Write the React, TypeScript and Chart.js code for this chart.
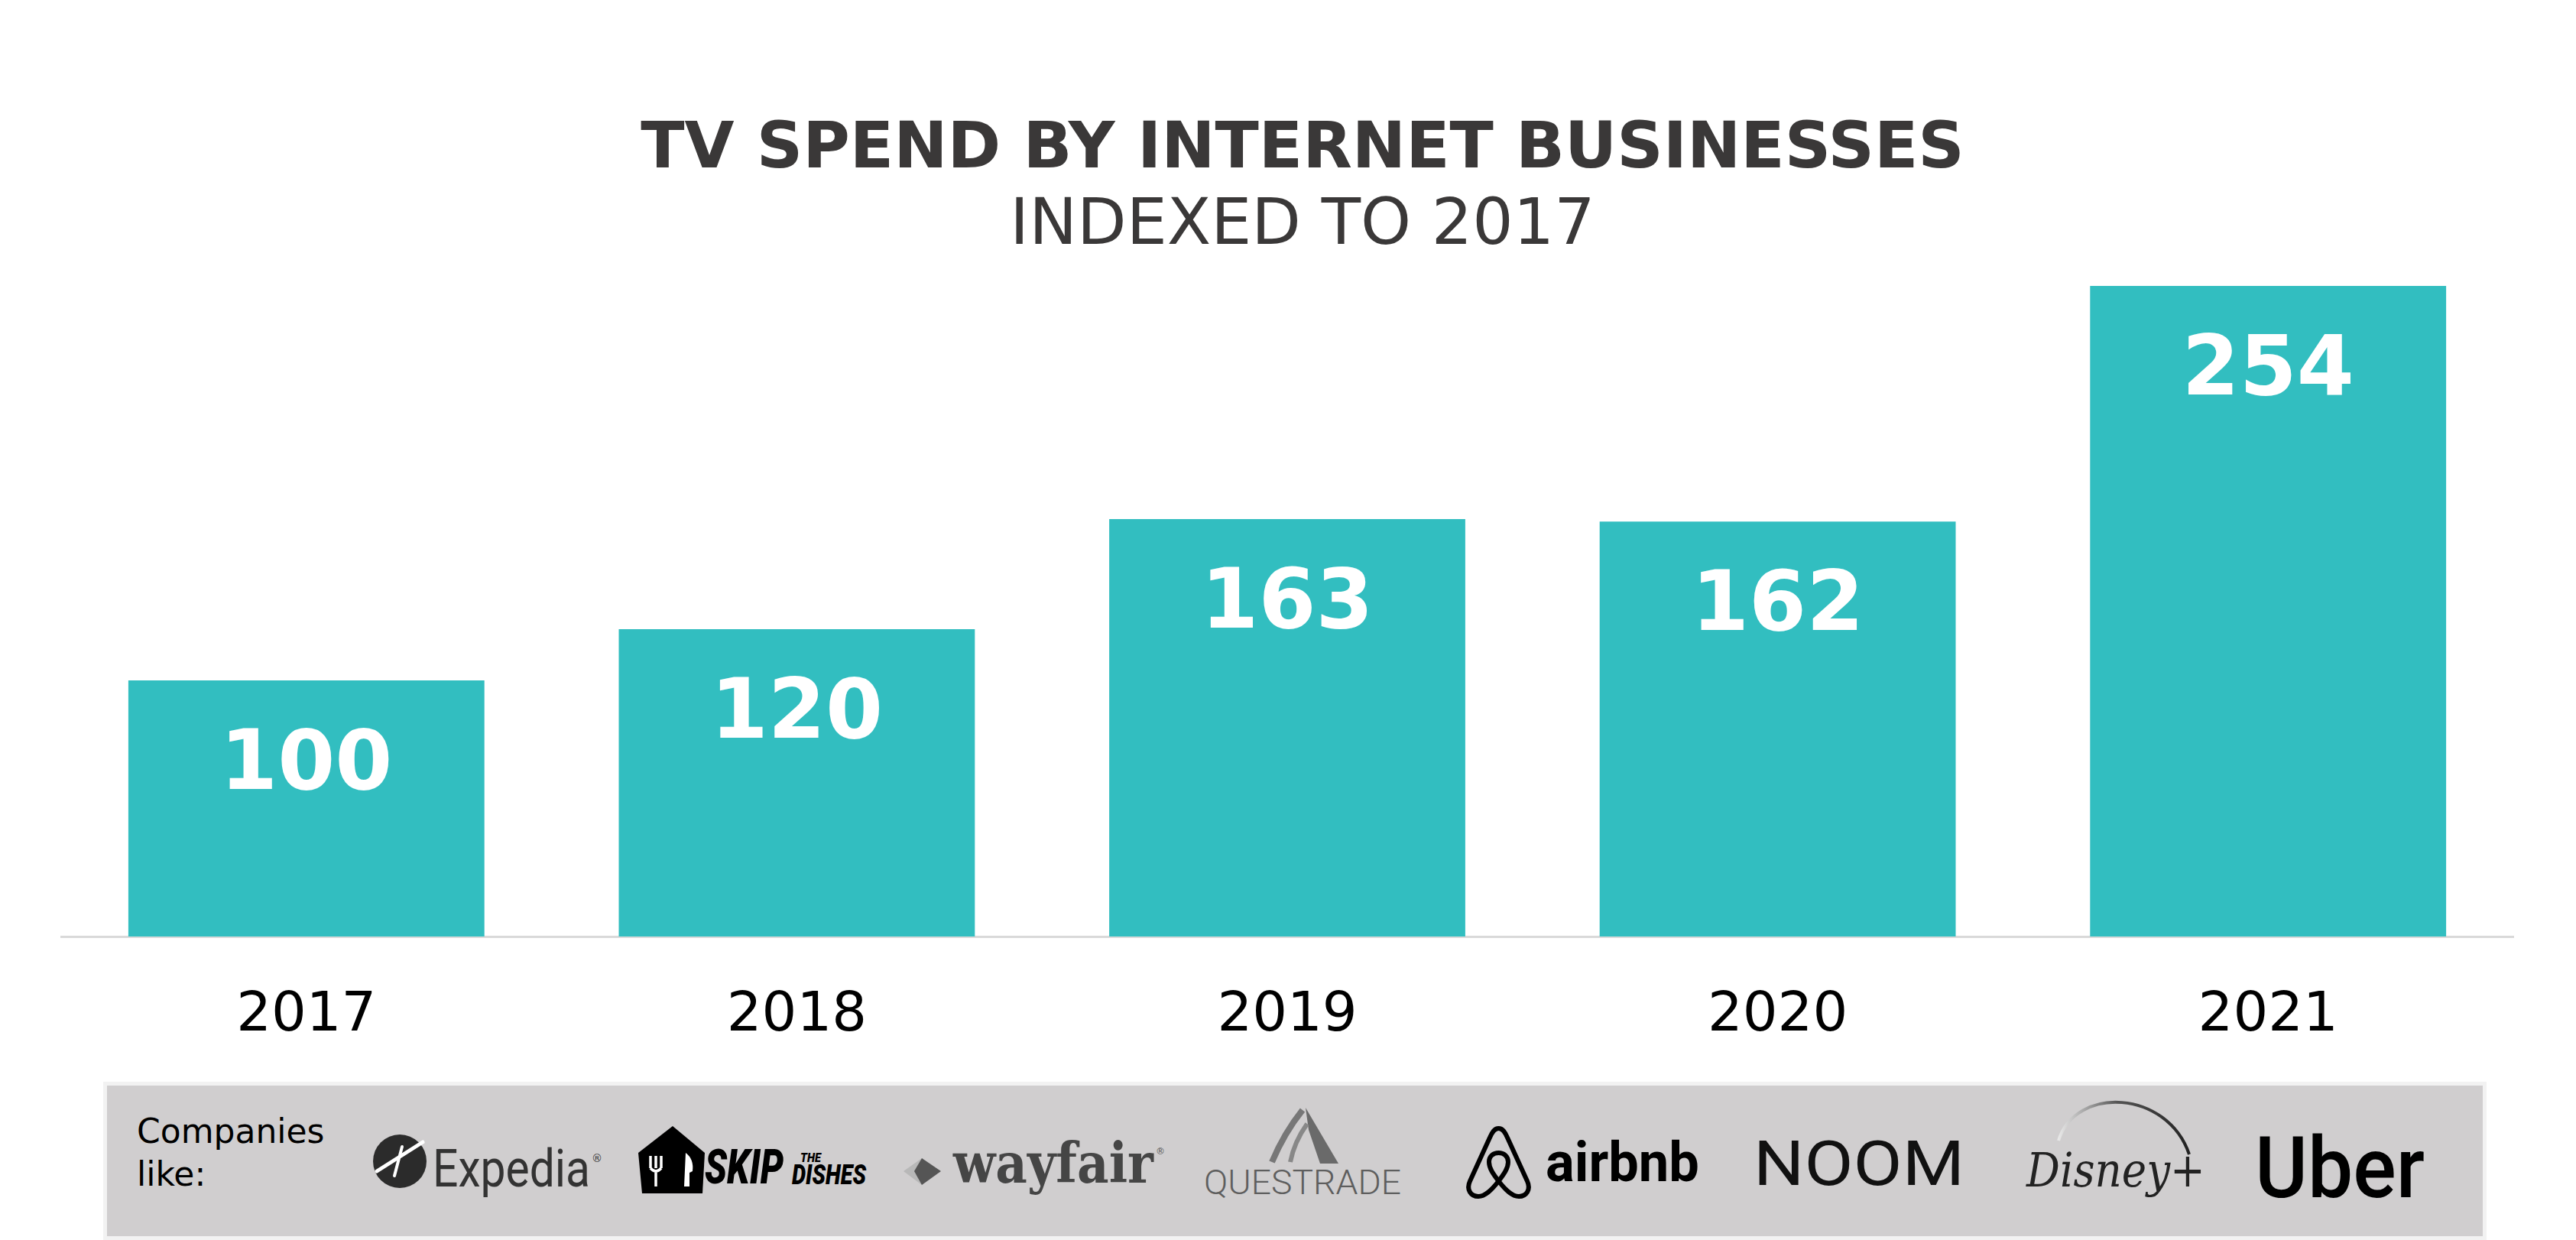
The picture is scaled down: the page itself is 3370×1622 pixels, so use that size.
import React, { useEffect, useRef } from 'react';
import { Chart, registerables } from 'chart.js';

Chart.register(...registerables);

const years = ['2017', '2018', '2019', '2020', '2021'];
const spendIndex = [100, 120, 163, 162, 254];
const titleText = 'TV SPEND BY INTERNET BUSINESSES';
const subtitleText = 'INDEXED TO 2017';
const companiesLabel = ['Companies', 'like:'];
const yAxisMax = 260;

const barValueLabels = {
  id: 'barValueLabels',
  afterDatasetsDraw(chart: any) {
    const { ctx } = chart;
    const meta = chart.getDatasetMeta(0);
    const values = chart.data.datasets[0].data;
    ctx.save();
    ctx.fillStyle = '#ffffff';
    ctx.font = 'bold 108px "DejaVu Sans"';
    ctx.textAlign = 'center';
    ctx.textBaseline = 'alphabetic';
    meta.data.forEach((bar: any, i: number) => {
      ctx.fillText(String(values[i]), bar.x, bar.y + 142);
    });
    ctx.restore();
  },
};

function LogoStrip() {
  return (
    <svg
      style={{ position: 'absolute', left: 0, top: 1400 }}
      width={3370}
      height={222}
      viewBox="0 1400 3370 222"
    >
      <defs>
        <linearGradient id="disneyArc" x1="0" y1="0" x2="1" y2="0">
          <stop offset="0" stopColor="#e8e8e8" />
          <stop offset="0.45" stopColor="#555" />
          <stop offset="1" stopColor="#222" />
        </linearGradient>
      </defs>
      <rect x={137.5} y={1417.5} width={3113} height={202} fill="#d0cecf" stroke="#f2f2f2" strokeWidth={5} />
      <text x={179} y={1495} fontFamily="DejaVu Sans" fontSize={44} fill="#000">{companiesLabel[0]}</text>
      <text x={179} y={1551} fontFamily="DejaVu Sans" fontSize={44} fill="#000">{companiesLabel[1]}</text>

      {/* Expedia */}
      <circle cx={523} cy={1519} r={35} fill="#2b2b2b" />
      <path d="M493,1532 L553,1494" stroke="#fff" strokeWidth={5} strokeLinecap="round" />
      <path d="M526,1500 L516,1538" stroke="#fff" strokeWidth={4} strokeLinecap="round" />
      <text x={566} y={1552} fontFamily="Roboto" fontSize={69} fill="#333" textLength={206} lengthAdjust="spacingAndGlyphs">Expedia</text>
      <text x={774} y={1520} fontFamily="DejaVu Sans" fontSize={14} fill="#333">®</text>

      {/* Skip the Dishes */}
      <path d="M880,1473 L922,1508 L919,1561 L840,1561 L835,1508 Z" fill="#000" />
      <path d="M851,1512 L851,1528 M858,1512 L858,1528 M865,1512 L865,1528 M851,1528 Q858,1536 865,1528 M858,1530 L858,1552" stroke="#fff" strokeWidth={3.5} fill="none" />
      <path d="M897,1508 Q908,1516 906,1532 L902,1534 L902,1552 L895,1552 Z" fill="#fff" />
      <text x={922} y={1548} fontFamily="Roboto" fontWeight={900} fontStyle="italic" fontSize={63} fill="#000" textLength={103} lengthAdjust="spacingAndGlyphs">SKIP</text>
      <text x={1047} y={1520} fontFamily="Roboto" fontWeight={900} fontStyle="italic" fontSize={17} fill="#000" textLength={27} lengthAdjust="spacingAndGlyphs">THE</text>
      <text x={1036} y={1549} fontFamily="Roboto" fontWeight={900} fontStyle="italic" fontSize={37} fill="#000" textLength={97} lengthAdjust="spacingAndGlyphs">DISHES</text>

      {/* wayfair */}
      <path d="M1182,1532 L1206,1515 L1213,1532 L1206,1550 Z" fill="#b8b8b8" />
      <path d="M1206,1515 L1231,1532 L1206,1550 L1196,1532 Z" fill="#555" />
      <text x={1247} y={1547} fontFamily="DejaVu Serif" fontWeight="bold" fontSize={72} fill="#454545" textLength={262} lengthAdjust="spacingAndGlyphs">wayfair</text>
      <text x={1512} y={1510} fontFamily="DejaVu Sans" fontSize={12} fill="#555">®</text>

      {/* Questrade */}
      <path d="M1708,1449 L1751,1522 L1727,1522 L1712,1478 Z" fill="#6a6a6a" />
      <path d="M1704,1452 Q1680,1482 1664,1520" stroke="#777" strokeWidth={8} fill="none" />
      <path d="M1710,1470 Q1693,1494 1688,1520" stroke="#888" strokeWidth={6} fill="none" />
      <text x={1575} y={1562} fontFamily="Roboto" fontWeight={300} fontSize={45} fill="#5e5e5e" textLength={258} lengthAdjust="spacingAndGlyphs">QUESTRADE</text>

      {/* airbnb */}
      <g transform="translate(1917,1473)">
        <path
          d="M43.5,3 C38,3 35,8 32,15 L6,72 C1,83 7,92 17,92 C26,92 34,84 43.5,72 C53,84 61,92 70,92 C80,92 86,83 81,72 L55,15 C52,8 49,3 43.5,3 Z M43.5,72 C36,62 31,55 31,47 C31,39 37,35 43.5,35 C50,35 56,39 56,47 C56,55 51,62 43.5,72 Z"
          stroke="#000"
          strokeWidth={6}
          fill="none"
          strokeLinejoin="round"
        />
      </g>
      <text x={2022} y={1545} fontFamily="Roboto" fontWeight="bold" fontSize={72} fill="#000" textLength={201} lengthAdjust="spacingAndGlyphs">airbnb</text>

      {/* NOOM */}
      <text x={2294} y={1550} fontFamily="Roboto" fontWeight={400} fontSize={82} fill="#111" textLength={276} lengthAdjust="spacingAndGlyphs">NOOM</text>

      {/* Disney+ */}
      <path d="M2693,1492 C2715,1420 2835,1425 2864,1510" stroke="url(#disneyArc)" strokeWidth={4} fill="none" />
      <text x={2651} y={1552} fontFamily="DejaVu Serif" fontStyle="italic" fontSize={62} fill="#222" textLength={234} lengthAdjust="spacingAndGlyphs">Disney+</text>

      {/* Uber */}
      <text x={2950} y={1566} fontFamily="Roboto" fontWeight={500} fontSize={112} fill="#000" textLength={222} lengthAdjust="spacingAndGlyphs">Uber</text>
    </svg>
  );
}

export default function App() {
  const canvasRef = useRef<HTMLCanvasElement | null>(null);

  useEffect(() => {
    if (!canvasRef.current) return;
    const chart = new Chart(canvasRef.current, {
      type: 'bar',
      data: {
        labels: years,
        datasets: [
          {
            data: spendIndex,
            backgroundColor: '#32bec0',
            borderWidth: 0,
            categoryPercentage: 0.726,
            barPercentage: 1,
          },
        ],
      },
      options: {
        animation: false,
        responsive: false,
        devicePixelRatio: 1,
        layout: { padding: { top: 0, left: 80, right: 42, bottom: 34.6 } },
        plugins: {
          legend: { display: false },
          tooltip: { enabled: false },
          title: {
            display: true,
            text: titleText,
            color: '#3a3838',
            font: { family: 'DejaVu Sans', size: 84, weight: 'bold', lineHeight: 1 },
            padding: { top: 155, bottom: 0 },
          },
          subtitle: {
            display: true,
            text: subtitleText,
            color: '#3a3838',
            font: { family: 'DejaVu Sans', size: 84, weight: 'normal', lineHeight: 1 },
            padding: { top: 16, bottom: 15 },
          },
        },
        scales: {
          x: {
            grid: { display: false, drawTicks: false },
            border: { display: true, color: '#d9d9d9', width: 3 },
            ticks: {
              color: '#000',
              font: { family: 'DejaVu Sans', size: 72, lineHeight: 1.2 },
              padding: 61,
            },
          },
          y: {
            display: true,
            position: 'right',
            min: 0,
            max: yAxisMax,
            grid: { display: false, drawTicks: false },
            border: { display: false },
            ticks: { display: false },
            afterFit: (scale: any) => {
              scale.width = 40;
            },
          },
        },
      },
      plugins: [barValueLabels],
    });
    return () => chart.destroy();
  }, []);

  return (
    <div
      style={{
        position: 'fixed',
        left: 0,
        top: 0,
        width: 3370,
        height: 1622,
        background: '#fff',
        overflow: 'hidden',
      }}
    >
      <canvas
        ref={canvasRef}
        width={3370}
        height={1468}
        style={{ position: 'absolute', left: 0, top: 0, width: 3370, height: 1468 }}
      />
      <LogoStrip />
    </div>
  );
}
